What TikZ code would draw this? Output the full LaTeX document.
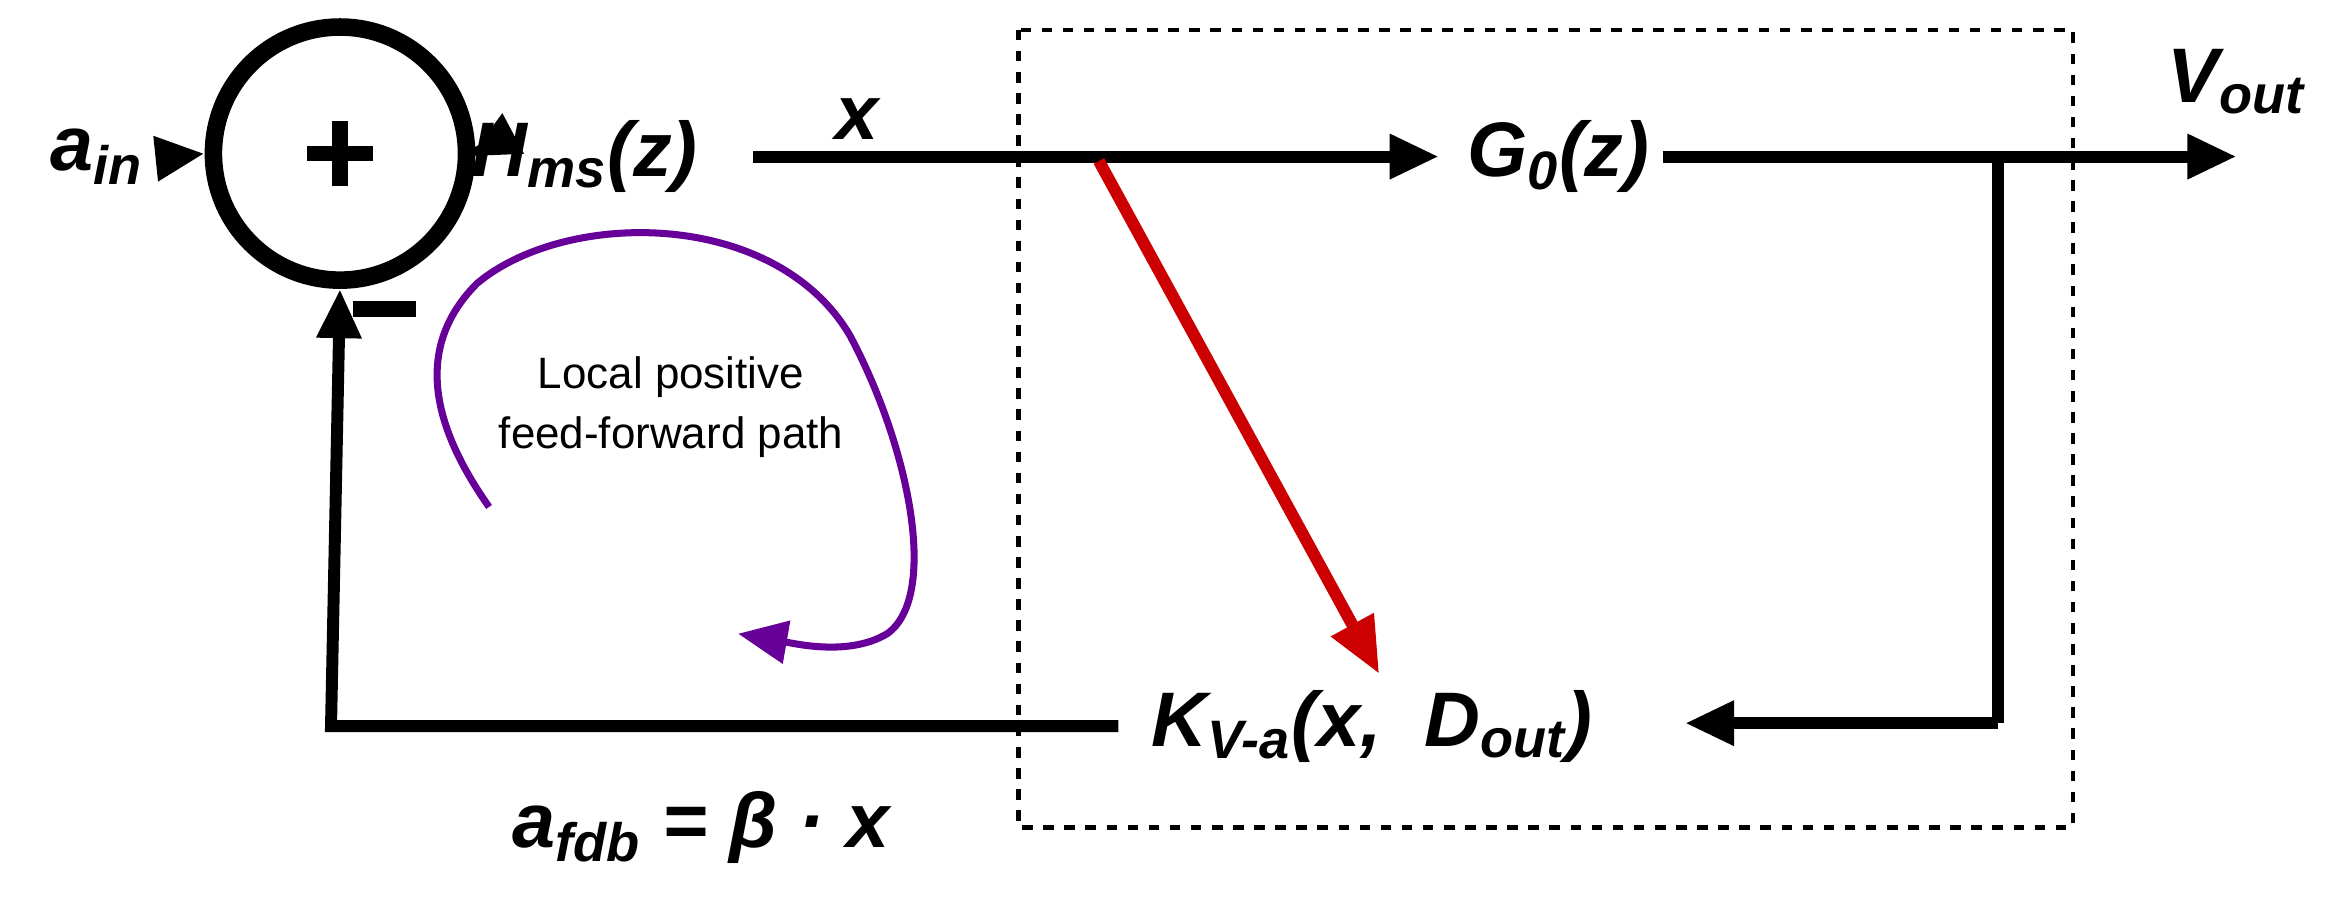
\documentclass[tikz,border=0pt]{standalone}
\usepackage{fontspec}
\setmainfont{Liberation Sans}
\usetikzlibrary{arrows.meta}
\tikzset{
  sig/.style={line width=3.4pt, -{Triangle[length=14pt,width=12pt]}},
  wire/.style={line width=3.4pt},
  lbl/.style={font=\fontsize{22}{24}\selectfont\bfseries\itshape, inner sep=0pt},
}
\begin{document}
\begin{tikzpicture}[x=0.01491cm, y=-0.01491cm]
      \useasboundingbox (0,0) rectangle (1568,605);

      % blocks
      \node[lbl] (ain) at (65,105) {a\textsubscript{in}};
      \node[circle, draw, line width=5pt, minimum size=72pt, inner sep=0pt] (sum) at (228,103) {};
      \draw[line width=4.5pt] (sum.center) ++(0,-22) -- ++(0,44) (sum.center) ++(-22,0) -- ++(44,0);
      \node[lbl] (H) at (392,105) {H\textsubscript{ms}(z)};
      \node[lbl] (G) at (1045,105) {G\textsubscript{0}(z)};
      \node[lbl] (K) at (920,487) {K\textsubscript{V-a}(x,\ \ D\textsubscript{out})};
      \node[lbl] (vout) at (1500,55) {V\textsubscript{out}};
      \node[lbl] (xl) at (575,80) {x};
      \node[lbl] (fdb) at (470,555) {a\textsubscript{fdb} = β · x};
      \node[inner sep=0pt] (minus) at (258,207) {\rule{18pt}{4.5pt}};
      \node[align=center, font=\fontsize{12.5}{17}\selectfont] (txt) at (450,273) {Local positive\\feed-forward path};

      \coordinate (p1) at (118,105);
      \coordinate (p2) at (505,105);
      \coordinate (br) at (737,108);
      \coordinate (p3) at (965,105);
      \coordinate (p4) at (1115,105);
      \coordinate (tap) at (1340,105);
      \coordinate (p5) at (1500,105);
      \coordinate (c1) at (1340,485);
      \coordinate (p6) at (1130,485);
      \coordinate (p7) at (750,487);
      \coordinate (c2) at (222,487);
      \coordinate (red) at (925,452);

      % signals
      \draw[sig] (p1) -- (sum.west);
      \draw[sig] (sum.east) -- (315,105);
      \draw[sig] (p2) -- (p3);
      \draw[sig] (p4) -- (p5);
      \draw[wire] (tap) -- (c1);
      \draw[sig] (c1) -- (p6);
      \draw[sig] (p7) -- (c2) -- (sum.south);
      \draw[line width=3.4pt, color=red!80!black, -{Triangle[length=16pt,width=13pt]}] (br) -- (red);

      % loop arrow
      \draw[line width=2pt, color=violet!80!blue, -{Triangle[length=14pt,width=12pt]}]
        (328,340) .. controls (300,300) and (270,240) .. (320,190)
        .. controls (380,140) and (520,140) .. (570,225)
        .. controls (610,300) and (630,400) .. (595,425)
        .. controls (570,440) and (535,432) .. (495,425);

      % dashed frame
      \draw[dashed, line width=1.2pt] (683,20) rectangle (1390,555);
\end{tikzpicture}
\end{document}
